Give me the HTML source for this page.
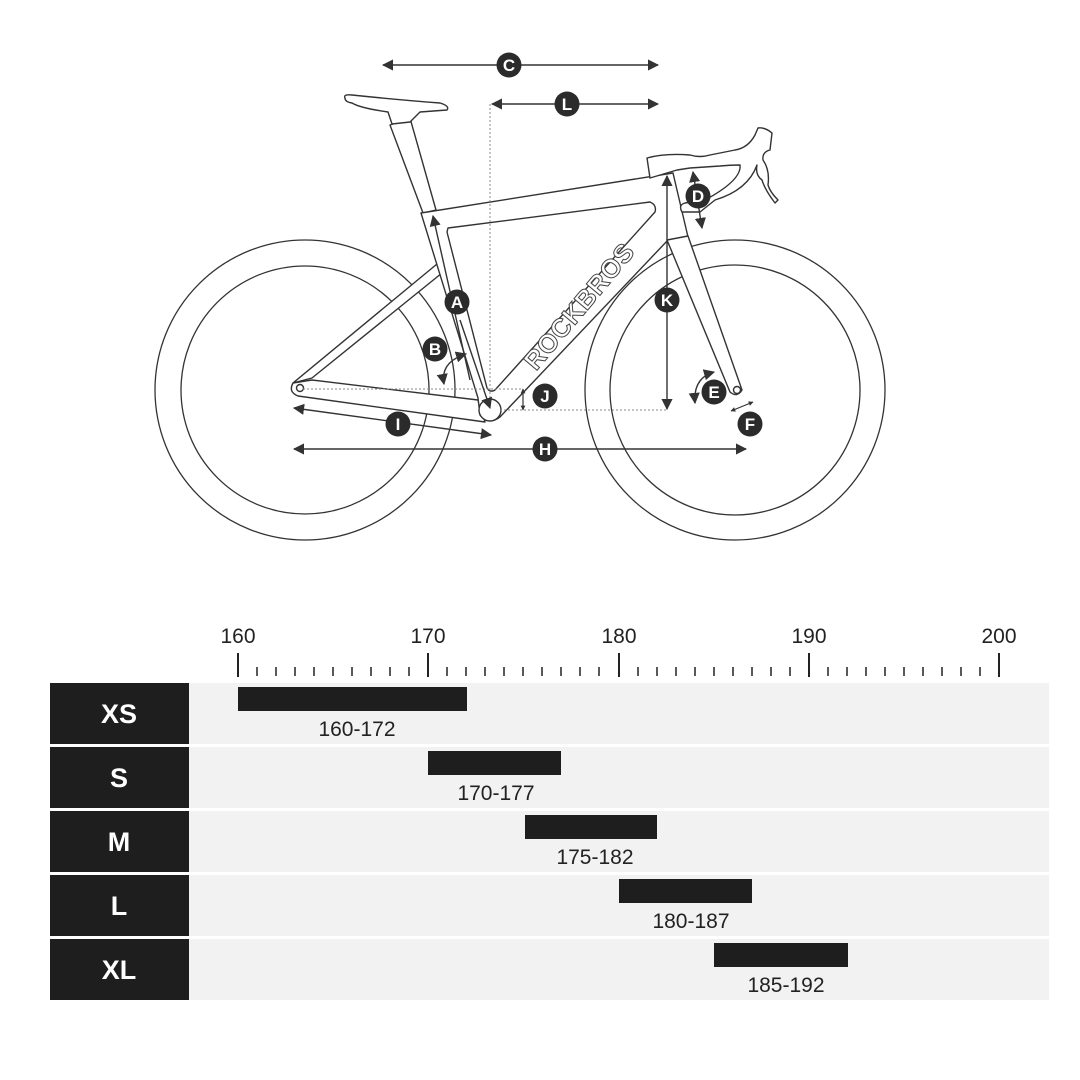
<!DOCTYPE html>
<html><head><meta charset="utf-8"><style>
html,body{margin:0;padding:0;background:#fff;width:1080px;height:1080px;overflow:hidden}
svg{display:block}
text{font-family:"Liberation Sans",sans-serif}
</style></head><body>
<svg width="1080" height="1080" viewBox="0 0 1080 1080" xmlns="http://www.w3.org/2000/svg">
<defs>
<marker id="ar" viewBox="0 0 10 10" refX="9" refY="5" markerWidth="8" markerHeight="8" orient="auto-start-reverse"><path d="M0,0 L10,5 L0,10 z" fill="#333"/></marker>
<marker id="sm" viewBox="0 0 10 10" refX="9" refY="5" markerWidth="4" markerHeight="4" orient="auto-start-reverse"><path d="M0,0 L10,5 L0,10 z" fill="#333"/></marker>
</defs>
<g fill="none" stroke="#333" stroke-width="1.3">
<circle cx="305" cy="390" r="150"/><circle cx="305" cy="390" r="124"/>
<circle cx="735" cy="390" r="150"/><circle cx="735" cy="390" r="125"/>
</g>
<g fill="#fff" stroke="#333" stroke-width="1.4" stroke-linejoin="round">
<path d="M423,213 L390,125 L410,118 L436,210 Z"/>
<path d="M345,98 Q343,94 352,95 Q400,100 440,103 Q450,106 447,110 L420,112 L410,122 L392,124 L388,112 Q360,108 352,103 Q345,102 345,98 Z"/>
<path d="M293,383 L437,264 L442,273 L312,378 Z"/>
<path d="M293,383 Q288,392 298,396 L485,422 L478,400 L312,380 Z"/>
<path d="M421,213 L673,173 L688,237 L668,240 L500,417 Q490,425 480,415 L478,398 Z"/>
<path d="M448,228 L650,202 Q657,205 655,212 L495,390 Q490,393 487,388 L447,232 Z"/>
<path d="M667,240 L730,392 Q737,398 742,390 L688,236 Z"/>
<path d="M647,158 Q665,153 690,155 Q700,158 710,155 L735,150 Q748,148 755,135 L758,128 Q765,127 772,133 L770,150 Q762,152 763,160 Q770,170 768,185 Q770,192 778,200 L775,203 Q765,190 762,180 Q755,175 757,165 Q748,190 715,200 L700,212 L682,212 Q678,205 685,203 L705,200 Q742,180 740,165 Q730,165 720,166 L690,168 L677,170 L650,178 Z"/>
<circle cx="490" cy="410" r="11"/>
<circle cx="300" cy="388" r="3.5"/>
<circle cx="737" cy="390" r="3.5"/>
</g>
<text x="586" y="312" transform="rotate(-50 586 312)" text-anchor="middle" font-size="26" font-weight="bold" fill="#fff" stroke="#444" stroke-width="1" letter-spacing="0.5">ROCKBROS</text>
<g stroke="#888" stroke-width="1" stroke-dasharray="2,2" fill="none">
<line x1="490" y1="104" x2="490" y2="405"/>
<line x1="303" y1="389" x2="522" y2="389"/>
<line x1="500" y1="410" x2="667" y2="410"/>
</g>
<g stroke="#333" stroke-width="1.4" fill="none" marker-start="url(#ar)" marker-end="url(#ar)">
<line x1="383" y1="65" x2="658" y2="65"/>
<line x1="492" y1="104" x2="658" y2="104"/>
<line x1="667" y1="176" x2="667" y2="409"/>
<line x1="294" y1="408" x2="491" y2="435"/>
<line x1="294" y1="449" x2="746" y2="449"/>
<line x1="693" y1="172" x2="702" y2="228"/>
<path d="M444,384 Q440,362 466,354"/>
<path d="M695,403 Q693,378 714,372"/>
</g>
<g stroke="#333" stroke-width="1.2" fill="none" marker-start="url(#sm)" marker-end="url(#sm)">
<line x1="523" y1="389" x2="523" y2="410"/>
<line x1="731" y1="411" x2="753" y2="402"/>
</g>
<g marker-end="url(#ar)" stroke="#333" stroke-width="1.4"><line x1="470" y1="380" x2="433" y2="216"/></g>
<g marker-end="url(#ar)" stroke="#333" stroke-width="1.4"><line x1="460" y1="320" x2="490" y2="408"/></g>
<g font-size="17" font-weight="bold" fill="#fff" text-anchor="middle">
<circle cx="509" cy="65" r="12.5" fill="#2b2b2b"/><text x="509" y="71">C</text>
<circle cx="567" cy="104" r="12.5" fill="#2b2b2b"/><text x="567" y="110">L</text>
<circle cx="457" cy="302" r="12.5" fill="#2b2b2b"/><text x="457" y="308">A</text>
<circle cx="435" cy="349" r="12.5" fill="#2b2b2b"/><text x="435" y="355">B</text>
<circle cx="667" cy="300" r="12.5" fill="#2b2b2b"/><text x="667" y="306">K</text>
<circle cx="545" cy="396" r="12.5" fill="#2b2b2b"/><text x="545" y="402">J</text>
<circle cx="398" cy="424" r="12.5" fill="#2b2b2b"/><text x="398" y="430">I</text>
<circle cx="545" cy="449" r="12.5" fill="#2b2b2b"/><text x="545" y="455">H</text>
<circle cx="698" cy="196" r="12.5" fill="#2b2b2b"/><text x="698" y="202">D</text>
<circle cx="714" cy="392" r="12.5" fill="#2b2b2b"/><text x="714" y="398">E</text>
<circle cx="750" cy="424" r="12.5" fill="#2b2b2b"/><text x="750" y="430">F</text>
</g>
<g font-size="21" fill="#222" text-anchor="middle">
<text x="238" y="643">160</text><text x="428" y="643">170</text><text x="619" y="643">180</text><text x="809" y="643">190</text><text x="999" y="643">200</text>
</g>
<g stroke="#222" stroke-width="2">
<line x1="238" y1="653" x2="238" y2="677"/><line x1="428" y1="653" x2="428" y2="677"/><line x1="619" y1="653" x2="619" y2="677"/><line x1="809" y1="653" x2="809" y2="677"/><line x1="999" y1="653" x2="999" y2="677"/>
</g>
<g stroke="#222" stroke-width="1.5">
<path d="M257,667v9M276,667v9M295,667v9M314,667v9M333,667v9M352,667v9M371,667v9M390,667v9M409,667v9
M447,667v9M466,667v9M485,667v9M504,667v9M523,667v9M542,667v9M561,667v9M580,667v9M599,667v9
M638,667v9M657,667v9M676,667v9M695,667v9M714,667v9M733,667v9M752,667v9M771,667v9M790,667v9
M828,667v9M847,667v9M866,667v9M885,667v9M904,667v9M923,667v9M942,667v9M961,667v9M980,667v9"/>
</g>
<g fill="#f2f2f2">
<rect x="189" y="683" width="860" height="61"/><rect x="189" y="747" width="860" height="61"/><rect x="189" y="811" width="860" height="61"/><rect x="189" y="875" width="860" height="61"/><rect x="189" y="939" width="860" height="61"/>
</g>
<g fill="#1e1e1e">
<rect x="50" y="683" width="139" height="61"/><rect x="50" y="747" width="139" height="61"/><rect x="50" y="811" width="139" height="61"/><rect x="50" y="875" width="139" height="61"/><rect x="50" y="939" width="139" height="61"/>
<rect x="238" y="687" width="229" height="24"/>
<rect x="428" y="751" width="133" height="24"/>
<rect x="525" y="815" width="132" height="24"/>
<rect x="619" y="879" width="133" height="24"/>
<rect x="714" y="943" width="134" height="24"/>
</g>
<g font-size="27" font-weight="bold" fill="#fff" text-anchor="middle">
<text x="119" y="723">XS</text><text x="119" y="787">S</text><text x="119" y="851">M</text><text x="119" y="915">L</text><text x="119" y="979">XL</text>
</g>
<g font-size="21" fill="#222" text-anchor="middle">
<text x="357" y="736">160-172</text><text x="496" y="800">170-177</text><text x="595" y="864">175-182</text><text x="691" y="928">180-187</text><text x="786" y="992">185-192</text>
</g>
</svg>
</body></html>
